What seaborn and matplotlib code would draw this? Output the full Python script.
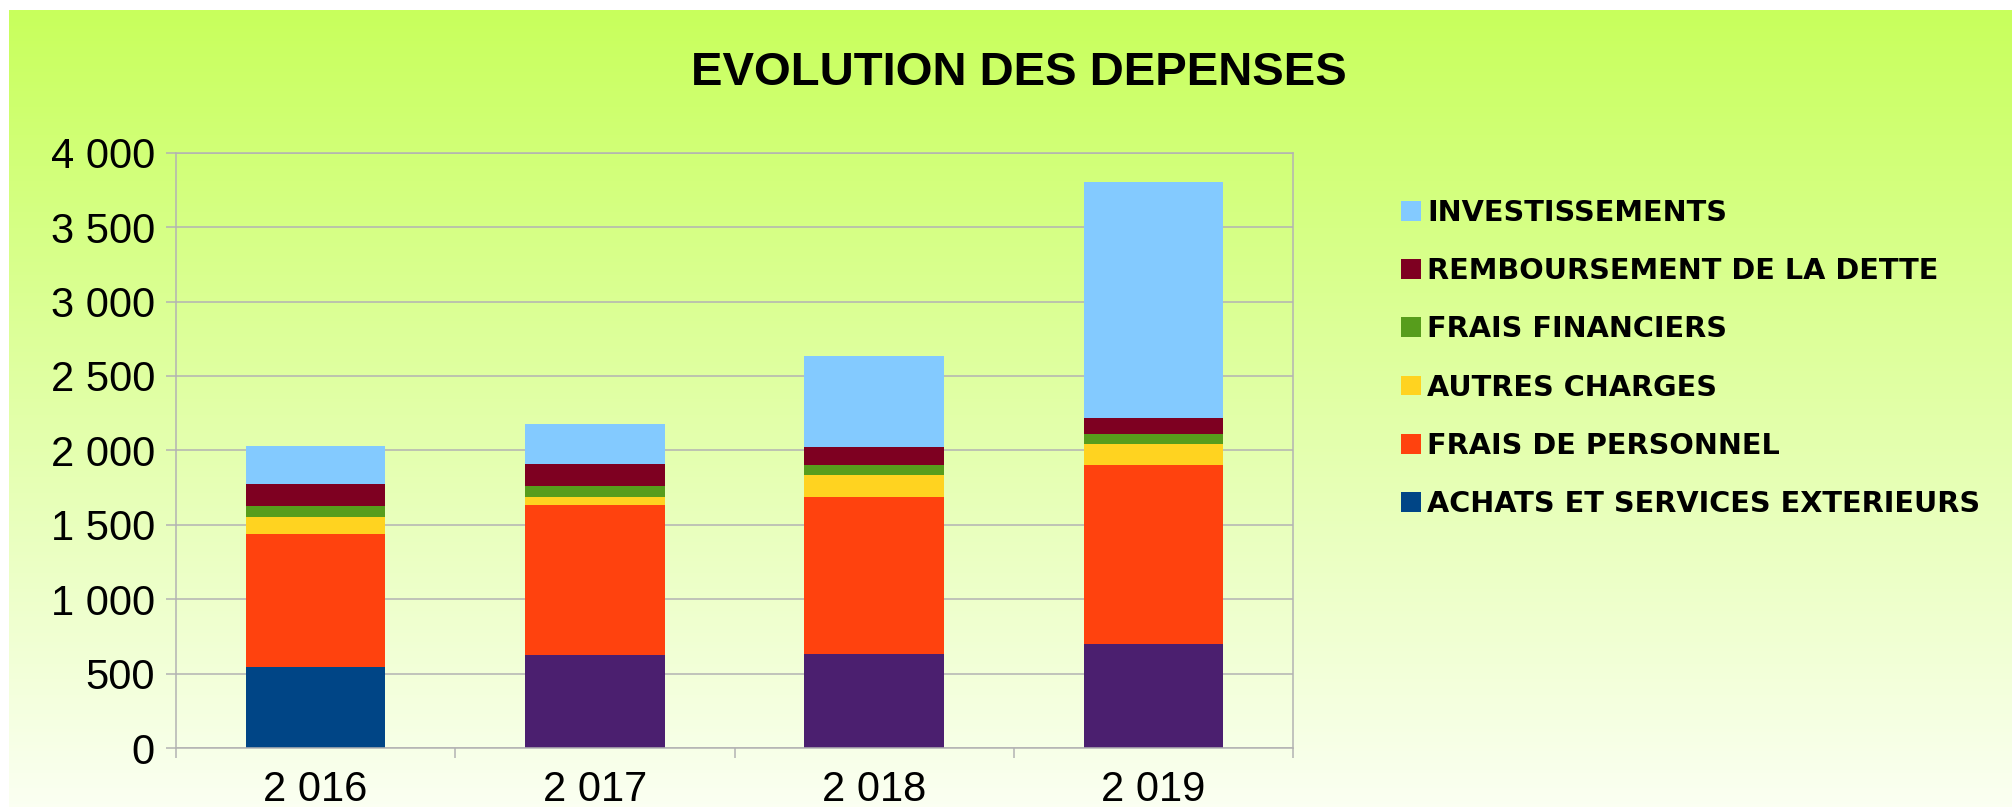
import numpy as np
import pandas as pd
import matplotlib
matplotlib.use("Agg")
import matplotlib.pyplot as plt
import seaborn as sns
from matplotlib.patches import Patch
from matplotlib.ticker import FuncFormatter, FixedLocator
from matplotlib.colors import to_rgb

# data
years = ["2 016", "2 017", "2 018", "2 019"]
achats = [545, 625, 632, 696]
personnel = [894, 1009, 1056, 1204]
autres = [114, 54, 148, 146]
financiers = [74, 74, 67, 62]
remboursement = [148, 148, 121, 108]
investissements = [256, 269, 612, 1588]

series_names = [
    "ACHATS ET SERVICES EXTERIEURS",
    "FRAIS DE PERSONNEL",
    "AUTRES CHARGES",
    "FRAIS FINANCIERS",
    "REMBOURSEMENT DE LA DETTE",
    "INVESTISSEMENTS",
]
series_values = [achats, personnel, autres, financiers, remboursement, investissements]
series_colors = ["#004586", "#ff420e", "#ffd320", "#579d1c", "#7e0021", "#83caff"]
# the first series has per-year colours in the original
achats_colors = ["#004586", "#4b1f6f", "#4b1f6f", "#4b1f6f"]

sns.set_theme(style="white")
plt.rcParams["font.family"] = ["Liberation Sans", "DejaVu Sans"]

W, H = 2012, 807
fig = plt.figure(figsize=(W / 100, H / 100), dpi=100)
fig.patch.set_facecolor("white")

# gradient background panel
bg = fig.add_axes([9 / W, 0, 1 - 9 / W, (H - 10) / H], zorder=0)
top_c = np.array(to_rgb("#c8ff5c"))
bot_c = np.array(to_rgb("#fbfff2"))
t = np.linspace(0, 1, 256)[:, None]
grad = (top_c * (1 - t) + bot_c * t)[:, None, :]
bg.imshow(grad, aspect="auto", extent=[0, 1, 0, 1])
bg.set_axis_off()

left, right, bottom, top = 176 / W, 1293 / W, 1 - 748 / H, 1 - 152.7 / H
ax = fig.add_axes([left, bottom, right - left, top - bottom], zorder=1)
ax.set_facecolor("none")

grid_c = "#b3b3b3"
ax.set_axisbelow(True)
ax.yaxis.grid(True, color=grid_c, linewidth=1.1)

bottoms = np.zeros(len(years))
for name, vals, col in zip(series_names, series_values, series_colors):
    n_before = len(ax.patches)
    sns.barplot(x=years, y=vals, bottom=bottoms, color=col, width=0.5,
                saturation=1, errorbar=None, linewidth=0, ax=ax)
    if name == series_names[0]:
        for p, c in zip(ax.patches[n_before:], achats_colors):
            p.set_facecolor(c)
    bottoms = bottoms + np.array(vals)

ax.set_xlim(-0.5, 3.5)
ax.set_ylim(0, 4000)
ax.set_yticks(range(0, 4001, 500))
ax.yaxis.set_major_formatter(FuncFormatter(lambda v, p: f"{v:,.0f}".replace(",", " ")))
ax.set_xlabel("")
ax.set_ylabel("")

ax.tick_params(axis="y", which="major", length=7.2, width=1.1, color=grid_c,
               pad=8, labelsize=30, labelcolor="black", left=True)
ax.tick_params(axis="x", which="major", length=0, pad=16, labelsize=30,
               labelcolor="black")
ax.xaxis.set_minor_locator(FixedLocator([-0.5, 0.5, 1.5, 2.5, 3.5]))
ax.tick_params(axis="x", which="minor", length=7.2, width=1.1, color=grid_c,
               bottom=True)
for s in ax.spines.values():
    s.set_color(grid_c)
    s.set_linewidth(1.1)

fig.text(1019 / W, 1 - 85 / H, "EVOLUTION DES DEPENSES", ha="center", va="baseline",
         fontsize=34, fontweight="bold", color="black")

handles = [Patch(facecolor=c, edgecolor="none", label=n)
           for n, c in zip(series_names, series_colors)][::-1]
leg = fig.legend(handles=handles, loc="upper left", bbox_to_anchor=(1401 / W, 1 - 199 / H),
                 frameon=False, borderpad=0, borderaxespad=0,
                 handlelength=0.68, handleheight=0.68, handletextpad=0.22,
                 labelspacing=1.05, labelcolor="black",
                 prop={"family": "DejaVu Sans", "size": 20.7, "weight": "bold"})

fig.savefig("out.png", dpi=100)
